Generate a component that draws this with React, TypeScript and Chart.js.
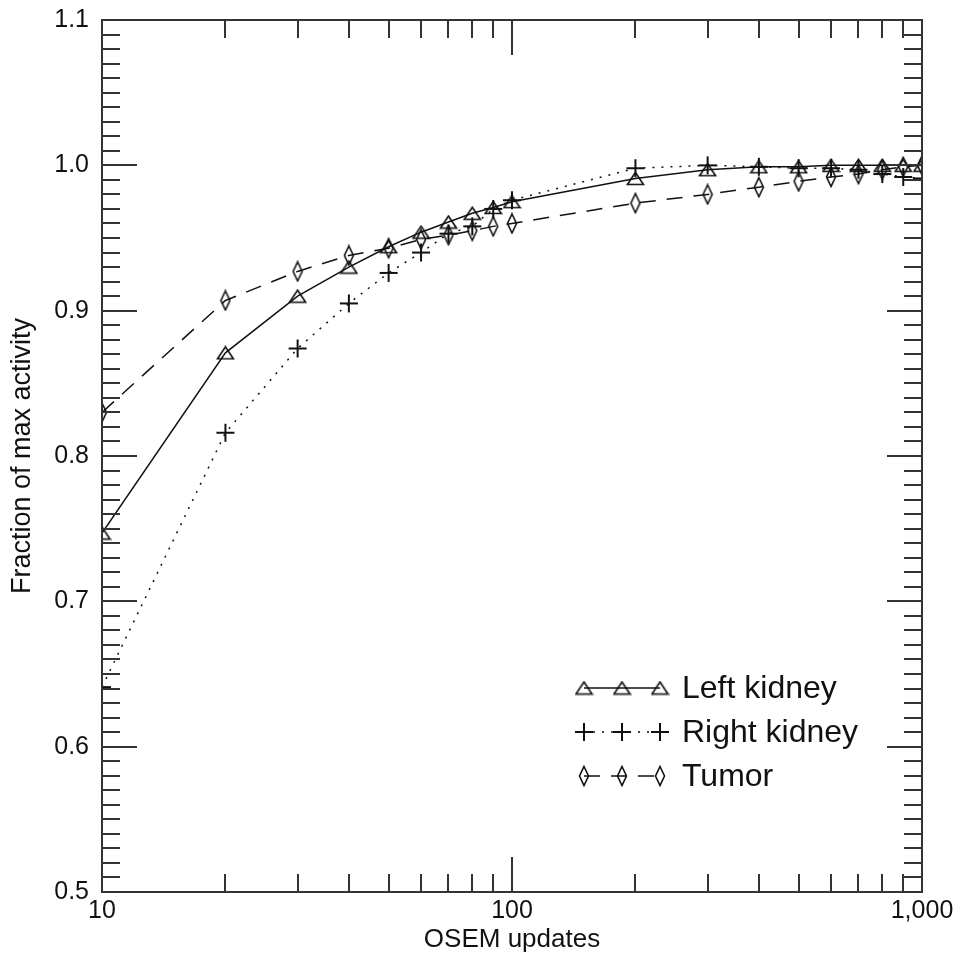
import React, { useEffect, useRef } from "react";
import { Chart, registerables } from "chart.js";

Chart.register(...registerables);

// ---- Data ----
const xValues = [10, 20, 30, 40, 50, 60, 70, 80, 90, 100, 200, 300, 400, 500, 600, 700, 800, 900, 1000];
const leftKidney = [0.747, 0.871, 0.910, 0.930, 0.944, 0.954, 0.961, 0.967, 0.971, 0.975, 0.991, 0.997, 0.999, 0.999, 1.0, 1.0, 1.0, 1.0, 1.0];
const rightKidney = [0.641, 0.816, 0.874, 0.905, 0.926, 0.940, 0.953, 0.958, 0.970, 0.976, 0.998, 1.0, 0.999, 0.998, 0.998, 0.997, 0.994, 0.992, 0.991];
const tumor = [0.830, 0.907, 0.927, 0.938, 0.943, 0.949, 0.952, 0.955, 0.958, 0.960, 0.974, 0.980, 0.985, 0.989, 0.992, 0.994, 0.997, 0.999, 1.0];

const seriesNames = ["Left kidney", "Right kidney", "Tumor"];
const xTickValues = [10, 100, 1000];
const xTickLabels = ["10", "100", "1,000"];
const yTickValues = [0.5, 0.6, 0.7, 0.8, 0.9, 1.0, 1.1];
const xTitle = "OSEM updates";
const yTitle = "Fraction of max activity";

const FONT = "'Liberation Sans', Arial, Helvetica, sans-serif";
const INK = "#111";
const AXIS = "#333";

function makeTriangle(): HTMLCanvasElement {
  const c = document.createElement("canvas");
  c.width = 19; c.height = 15;
  const g = c.getContext("2d")!;
  g.strokeStyle = INK; g.lineWidth = 1.6;
  g.beginPath();
  g.moveTo(1.5, 13.5); g.lineTo(9.5, 1.5); g.lineTo(17.5, 13.5); g.closePath();
  g.stroke();
  return c;
}
function makePlus(): HTMLCanvasElement {
  const c = document.createElement("canvas");
  c.width = 20; c.height = 20;
  const g = c.getContext("2d")!;
  g.strokeStyle = INK; g.lineWidth = 2;
  g.beginPath();
  g.moveTo(1, 10); g.lineTo(19, 10);
  g.moveTo(10, 1); g.lineTo(10, 19);
  g.stroke();
  return c;
}
function makeDiamond(): HTMLCanvasElement {
  const c = document.createElement("canvas");
  c.width = 12; c.height = 22;
  const g = c.getContext("2d")!;
  g.strokeStyle = INK; g.lineWidth = 1.6;
  g.beginPath();
  g.moveTo(6, 1.5); g.lineTo(10.5, 11); g.lineTo(6, 20.5); g.lineTo(1.5, 11); g.closePath();
  g.stroke();
  return c;
}

export default function App() {
  const ref = useRef<HTMLCanvasElement | null>(null);

  useEffect(() => {
    if (!ref.current) return;
    const tri = makeTriangle();
    const plus = makePlus();
    const dia = makeDiamond();
    const markers = [tri, plus, dia];
    const dashes = [[], [2, 7], [16, 11]];

    const framePlugin = {
      id: "frameTicks",
      afterDatasetsDraw(chart: any) {
        const ctx = chart.ctx;
        const { left, right, top, bottom } = chart.chartArea;
        const xs = chart.scales.x;
        const ys = chart.scales.y;
        ctx.save();
        ctx.strokeStyle = AXIS;
        ctx.lineWidth = 2;
        ctx.setLineDash([]);
        ctx.beginPath();
        for (let i = 50; i <= 110; i++) {
          const py = Math.round(ys.getPixelForValue(i / 100));
          const len = i % 10 === 0 ? 35 : 18;
          ctx.moveTo(left, py); ctx.lineTo(left + len, py);
          ctx.moveTo(right - len, py); ctx.lineTo(right, py);
        }
        for (let dec = 10; dec <= 1000; dec *= 10) {
          for (let k = 1; k <= 9; k++) {
            const v = k * dec;
            if (v > 1000) break;
            const px = Math.round(xs.getPixelForValue(v));
            const len = k === 1 ? 35 : 18;
            ctx.moveTo(px, bottom); ctx.lineTo(px, bottom - len);
            ctx.moveTo(px, top); ctx.lineTo(px, top + len);
          }
        }
        ctx.stroke();
        ctx.strokeRect(left, top, right - left, bottom - top);
        ctx.restore();

        // legend
        ctx.save();
        const rows = [688, 732, 776];
        const mx = [584, 622, 660];
        ctx.font = `32px ${FONT}`;
        ctx.fillStyle = INK;
        ctx.textBaseline = "middle";
        seriesNames.forEach((name, i) => {
          const y = rows[i];
          ctx.strokeStyle = INK;
          ctx.lineWidth = 1.5;
          ctx.setLineDash(dashes[i]);
          ctx.beginPath();
          ctx.moveTo(mx[0], y); ctx.lineTo(mx[2], y);
          ctx.stroke();
          ctx.setLineDash([]);
          const m = markers[i];
          mx.forEach((x) => ctx.drawImage(m, x - m.width / 2, y - m.height / 2));
          ctx.fillText(name, 682, y + 1);
        });
        ctx.restore();
      },
    };

    const mk = (vals: number[], i: number) => ({
      label: seriesNames[i],
      data: xValues.map((x, j) => ({ x, y: vals[j] })),
      borderColor: INK,
      borderWidth: 1.5,
      borderDash: dashes[i],
      pointStyle: markers[i],
      pointRadius: 8,
      pointHoverRadius: 8,
      fill: false,
      tension: 0,
    });

    const chart = new Chart(ref.current, {
      type: "line",
      data: { datasets: [mk(leftKidney, 0), mk(rightKidney, 1), mk(tumor, 2)] },
      options: {
        animation: false,
        responsive: false,
        devicePixelRatio: 1,
        parsing: false as any,
        layout: { padding: { top: 20, right: 40, left: 0, bottom: 0 } },
        plugins: { legend: { display: false }, tooltip: { enabled: false } },
        scales: {
          x: {
            type: "logarithmic",
            min: 10,
            max: 1000,
            grid: { display: false, drawTicks: false },
            border: { display: false },
            afterBuildTicks: (s: any) => {
              s.ticks = xTickValues.map((v) => ({ value: v }));
            },
            afterFit: (s: any) => {
              s.height = 65;
              s.paddingLeft = 0;
              s.paddingRight = 0;
            },
            ticks: {
              autoSkip: false,
              maxRotation: 0,
              padding: 4,
              color: INK,
              font: { family: FONT, size: 25 },
              callback: (v: any) => {
                const idx = xTickValues.indexOf(Number(v));
                return idx >= 0 ? xTickLabels[idx] : "";
              },
            },
            title: {
              display: true,
              text: xTitle,
              color: INK,
              font: { family: FONT, size: 26 },
              padding: { top: 0, bottom: 2 },
            },
          },
          y: {
            type: "linear",
            min: 0.5,
            max: 1.1,
            grid: { display: false, drawTicks: false },
            border: { display: false },
            afterBuildTicks: (s: any) => {
              s.ticks = yTickValues.map((v) => ({ value: v }));
            },
            afterFit: (s: any) => {
              s.width = 102;
              s.paddingTop = 0;
              s.paddingBottom = 0;
            },
            ticks: {
              padding: 13,
              color: INK,
              font: { family: FONT, size: 25 },
              callback: (v: any) => Number(v).toFixed(1),
            },
            title: {
              display: true,
              text: yTitle,
              color: INK,
              font: { family: FONT, size: 27 },
              padding: { top: 6, bottom: 0 },
            },
          },
        },
      } as any,
      plugins: [framePlugin],
    });
    return () => chart.destroy();
  }, []);

  return (
    <div style={{ position: "absolute", left: 0, top: 0, width: 962, height: 957, background: "#fff" }}>
      <canvas ref={ref} width={962} height={957} style={{ display: "block" }} />
    </div>
  );
}
